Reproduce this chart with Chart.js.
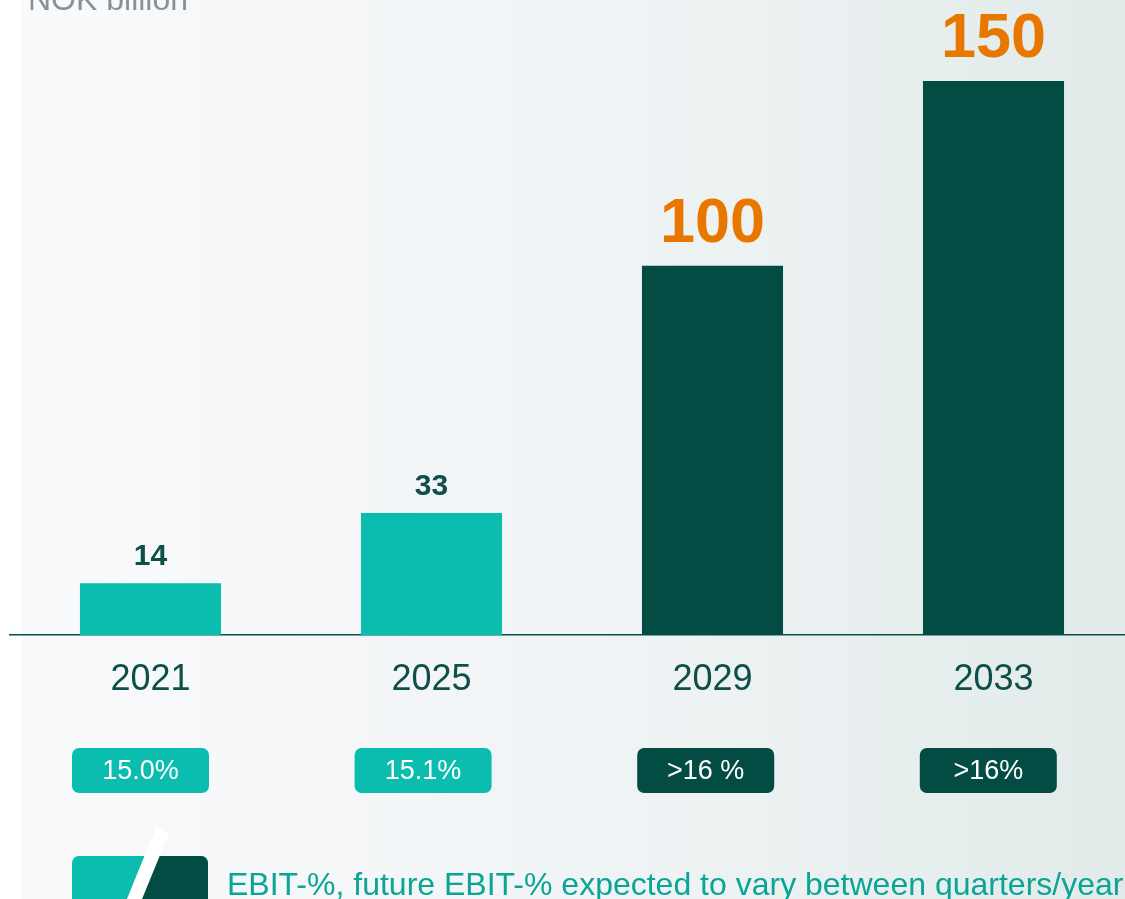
<!DOCTYPE html>
<html>
<head>
<meta charset="utf-8">
<script src="https://cdn.jsdelivr.net/npm/chart.js@4.4.1/dist/chart.umd.min.js"></script>
<style>
  html, body { margin: 0; padding: 0; width: 1125px; height: 899px; overflow: hidden; }
  body { background: linear-gradient(to right, #ffffff 0px, #ffffff 21px, #f9fafc 21px, #f1f4f6 50%, #e2ebea 100%); }
  #wrap { position: absolute; left: 0; top: 0; width: 1150px; height: 899px; }
</style>
</head>
<body>
<div id="wrap"><canvas id="c" width="1150" height="899"></canvas></div>
<script>
const years = ['2021', '2025', '2029', '2033'];
const revenue = [14, 33, 100, 150];
const ebitLabels = ['15.0%', '15.1%', '>16 %', '>16%'];
const unitLabel = 'NOK billion';
const legendText = 'EBIT-%, future EBIT-% expected to vary between quarters/year';

const TEAL = '#0bbdaf';
const DARK = '#024c44';
const ORANGE = '#e87700';
const TEXT_DARK = '#0e4f49';
const FONT = '"Liberation Sans", Arial, Helvetica, sans-serif';
const isFuture = i => i >= 2;

const overlay = {
  id: 'overlay',
  afterDatasetsDraw(chart) {
    const ctx = chart.ctx;
    const meta = chart.getDatasetMeta(0);
    ctx.save();
    meta.data.forEach((bar, i) => {
      ctx.textAlign = 'center';
      ctx.textBaseline = 'alphabetic';
      if (isFuture(i)) {
        ctx.fillStyle = ORANGE;
        ctx.font = 'bold 63px ' + FONT;
        ctx.fillText(String(revenue[i]), bar.x, bar.y - 24);
      } else {
        ctx.fillStyle = TEXT_DARK;
        ctx.font = 'bold 30px ' + FONT;
        ctx.fillText(String(revenue[i]), bar.x, bar.y - 18);
      }
    });
    // EBIT badges
    const xs = chart.scales.x;
    ebitLabels.forEach((lab, i) => {
      const cx = xs.getPixelForValue(i) - 10 + i * 1.6;
      const w = 137, h = 45, top = 748;
      ctx.beginPath();
      ctx.roundRect(cx - w / 2, top, w, h, 7);
      ctx.fillStyle = isFuture(i) ? DARK : TEAL;
      ctx.fill();
      ctx.fillStyle = '#ffffff';
      ctx.font = '27px ' + FONT;
      ctx.textAlign = 'center';
      ctx.textBaseline = 'middle';
      ctx.fillText(lab, cx, top + h / 2 + 1);
    });
    // unit label
    ctx.fillStyle = '#8a9096';
    ctx.font = '32px ' + FONT;
    ctx.textAlign = 'left';
    ctx.textBaseline = 'alphabetic';
    ctx.fillText(unitLabel, 28, 10);
    // legend icon
    const lx = 72, lw = 136, ltop = 856, lh = 70;
    ctx.save();
    ctx.beginPath();
    ctx.roundRect(lx, ltop, lw, lh, 7);
    ctx.fillStyle = TEAL;
    ctx.fill();
    ctx.clip();
    const slope = 0.408;
    const xAt = y => 134.5 + (899 - y) * slope;
    ctx.beginPath();
    ctx.moveTo(xAt(ltop - 10), ltop - 10);
    ctx.lineTo(lx + lw + 10, ltop - 10);
    ctx.lineTo(lx + lw + 10, ltop + lh + 10);
    ctx.lineTo(xAt(ltop + lh + 10), ltop + lh + 10);
    ctx.closePath();
    ctx.fillStyle = DARK;
    ctx.fill();
    ctx.restore();
    ctx.beginPath();
    ctx.moveTo(xAt(830), 830);
    ctx.lineTo(xAt(930), 930);
    ctx.strokeStyle = '#ffffff';
    ctx.lineWidth = 14;
    ctx.lineCap = 'butt';
    ctx.stroke();
    // legend text
    ctx.fillStyle = '#0aa596';
    ctx.font = '32px ' + FONT;
    ctx.textAlign = 'left';
    ctx.textBaseline = 'alphabetic';
    ctx.fillText(legendText, 227, 895);
    ctx.restore();
  }
};

new Chart(document.getElementById('c'), {
  type: 'bar',
  data: {
    labels: years,
    datasets: [{
      data: revenue,
      backgroundColor: revenue.map((v, i) => isFuture(i) ? DARK : TEAL),
      borderWidth: 0,
      categoryPercentage: 1,
      barPercentage: 0.502
    }]
  },
  options: {
    responsive: false,
    devicePixelRatio: 1,
    animation: false,
    layout: { padding: { left: 10, right: 16, top: 81, bottom: 0 } },
    plugins: { legend: { display: false }, tooltip: { enabled: false }, title: { display: false } },
    scales: {
      y: { display: false, min: 0, max: 150 },
      x: {
        grid: { display: false, drawTicks: false },
        border: { display: true, color: '#0b4f49', width: 1.5 },
        ticks: { color: TEXT_DARK, font: { family: FONT, size: 36 }, padding: 23 },
        afterFit(s) { s.height = 264; }
      }
    }
  },
  plugins: [overlay]
});
</script>
</body>
</html>
